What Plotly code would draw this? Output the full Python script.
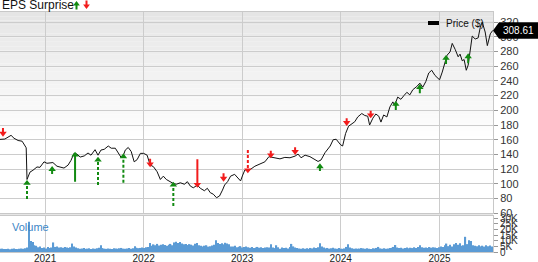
import plotly.graph_objects as go
import pandas as pd

# ---------------- data ----------------
price_dates = [
    "2020-07-18", "2020-08-05", "2020-08-28", "2020-09-08", "2020-09-23", "2020-10-08", "2020-10-19",
    "2020-10-23", "2020-10-26", "2020-11-06", "2020-11-17", "2020-12-02", "2020-12-13", "2020-12-28",
    "2021-01-08", "2021-01-19", "2021-01-30", "2021-02-14", "2021-02-25", "2021-03-12", "2021-03-27",
    "2021-04-07", "2021-04-18", "2021-04-29", "2021-05-11", "2021-05-26", "2021-06-09", "2021-06-20",
    "2021-07-05", "2021-07-16", "2021-07-27", "2021-08-08", "2021-08-23", "2021-09-03", "2021-09-18",
    "2021-09-29", "2021-10-10", "2021-10-18", "2021-10-25", "2021-11-05", "2021-11-16", "2021-11-27",
    "2021-12-08", "2021-12-20",
    "2022-01-01", "2022-01-14", "2022-01-25", "2022-02-06", "2022-02-20", "2022-03-04", "2022-03-15",
    "2022-03-26", "2022-04-10", "2022-04-21", "2022-05-02", "2022-05-17", "2022-06-01", "2022-06-12",
    "2022-06-23", "2022-07-04", "2022-07-19", "2022-07-30", "2022-08-14", "2022-08-25", "2022-09-05",
    "2022-09-16", "2022-09-28", "2022-10-09", "2022-10-20", "2022-10-28", "2022-11-08", "2022-11-19",
    "2022-12-04", "2022-12-15", "2022-12-26",
    "2023-01-03", "2023-01-11", "2023-01-22", "2023-01-29", "2023-02-17", "2023-03-07", "2023-03-26",
    "2023-04-10", "2023-04-21", "2023-05-02", "2023-05-21", "2023-06-08", "2023-06-27", "2023-07-16",
    "2023-07-27", "2023-08-07", "2023-08-22", "2023-09-09", "2023-09-28", "2023-10-09", "2023-10-20",
    "2023-11-04", "2023-11-23", "2023-12-04", "2023-12-15",
    "2024-01-01", "2024-01-08", "2024-01-19", "2024-01-30", "2024-02-10", "2024-02-22", "2024-03-04",
    "2024-03-19", "2024-03-30", "2024-04-10", "2024-04-17", "2024-04-29", "2024-05-10", "2024-05-21",
    "2024-05-29", "2024-06-08", "2024-06-20", "2024-07-01", "2024-07-12", "2024-07-19", "2024-07-30",
    "2024-08-11", "2024-08-22", "2024-09-02", "2024-09-13", "2024-09-24", "2024-10-09", "2024-10-20",
    "2024-10-31", "2024-11-11", "2024-11-22", "2024-12-03", "2024-12-15", "2024-12-26",
    "2025-01-01", "2025-01-11", "2025-01-22", "2025-01-29", "2025-02-09", "2025-02-17", "2025-02-28",
    "2025-03-11", "2025-03-18", "2025-03-26", "2025-04-02", "2025-04-10", "2025-04-17", "2025-04-25",
    "2025-05-02", "2025-05-13", "2025-05-24", "2025-06-01", "2025-06-08", "2025-06-19", "2025-06-27",
    "2025-07-08", "2025-07-17",
]
price_values = [
    160.5, 161, 166, 162, 159, 158, 151.5, 149, 106, 116, 118.5, 123, 122.5, 130,
    128, 128.5, 129, 124, 122.5, 121.5, 125.5, 132, 141.5, 140.5, 136.5, 138, 142, 139, 146.5, 139,
    146, 147, 151.5, 148.5, 148.5, 142, 135.7, 139, 146, 149.5, 144, 130, 133, 141.5,
    141.5, 139, 125.7, 123.5, 116.5, 106, 110.5, 106, 103, 100.5, 99.5, 101.5, 99.5, 103, 97, 94.7,
    98.3, 94, 90.7, 94, 88, 86, 81.2, 83.5, 91.5, 98.5, 103, 110.5, 113, 109, 104,
    112, 119, 119, 119, 124, 127, 130, 137, 136, 134.7, 134, 136, 135.5, 137.8, 140.5, 135.5, 139,
    137, 132.5, 130.5, 132.5, 142.5, 151.5, 160, 160.7,
    153, 151.5, 168.5, 178.4, 181, 184.5, 191, 195.7, 193, 192, 180, 189.3, 195, 192, 184, 193.7,
    191, 204.5, 211.5, 207, 218, 215, 220, 224.5, 221, 228, 232.5, 237, 231.5, 239, 250.8, 254.5,
    247.5, 243,
    241.5, 252, 268, 275, 279.5, 291, 282.8, 272.8, 276.4, 267.4, 269, 254.5, 261.5, 282, 301, 297,
    298.5, 313, 320, 306.5, 288, 304, 308.61,
]
last_price = 308.61

eps_dates = [
    "2020-07-29", "2020-10-26", "2021-01-27", "2021-04-22", "2021-07-16", "2021-10-18", "2022-01-25",
    "2022-04-21", "2022-07-19", "2022-10-24", "2023-01-22", "2023-04-17", "2023-07-16", "2023-10-16",
    "2024-01-23", "2024-04-21", "2024-07-23", "2024-10-20", "2025-01-25", "2025-04-17",
]
eps_sign = [-1, 1, 1, 1, 1, 1, -1, 1, -1, -1, -1, -1, -1, 1, -1, -1, 1, 1, 1, 1]
eps_tail = [176, 79.4, 113.4, 103, 98.5, 101.6, 134.2, 70, 133.4, 114.4,
            146, 145.1, 149.7, 117.5, 189.2, 199.5, 200.5, 223.2, 263, 264]
eps_tip = [164.2, 105.3, 124.3, 143.8, 137, 141.6, 122.6, 103, 94.7, 103,
           114.4, 134.8, 139.3, 128, 178.7, 189.2, 212.7, 235.8, 275.3, 277.6]
eps_estimated = [False, True, True, False, True, True, False, True, False, False,
                 True, False, False, False, False, False, False, False, False, False]

volume_start = "2020-07-20"
volume_k = (
    [2.8, 3.0, 2.6, 2.7, 2.9, 2.5, 2.8, 3.1, 2.7, 2.6, 2.9, 3.2, 3.0, 3.4]
    + [4.0, 27.0]
    + [9.8, 9.0, 6.0, 5.5, 4.2, 4.8]
    + [3.5, 4.0, 3.2, 4.5, 3.6, 4.0]
    + [8.5]
    + [4.5, 5.0, 4.0, 4.2, 3.8, 4.4, 4.0, 3.6, 4.2]
    + [7.5]
    + [5.0, 4.0, 3.4, 3.0, 3.2, 3.5, 2.8, 3.0, 3.3, 2.6, 3.1, 2.9, 3.4, 3.8]
    + [6.0]
    + [3.5, 3.0, 2.8, 3.2, 3.0, 2.7, 3.4, 3.1, 2.9, 3.3, 3.6, 3.0, 2.8, 3.2, 3.5, 3.0, 3.3]
    + [5.2]
    + [3.8, 3.4, 3.6, 4.0, 3.5, 4.2, 4.5]
    + [8.0]
    + [5.5, 6.8, 6.0, 7.2, 5.8, 6.5, 7.0, 6.2, 5.6, 6.4, 7.2, 6.0]
    + [8.5, 9.2, 8.0, 8.8, 7.5]
    + [6.8, 7.2, 6.2, 7.0, 6.5, 5.8, 7.4, 8.0]
    + [6.0, 5.5, 5.0, 5.6, 6.0, 4.8, 5.2, 5.8, 6.5]
    + [10.5]
    + [8.0, 7.2, 7.8, 6.8, 8.2, 7.5, 7.0]
    + [5.0, 4.8, 5.5, 4.2, 4.6, 5.2, 4.0, 4.5, 4.8]
    + [4.2, 3.8, 4.4, 3.6, 4.0, 4.5, 3.8, 4.2, 3.5, 4.0, 4.3]
    + [4.0]
    + [7.0, 4.0, 3.5, 6.0, 4.2, 3.0, 4.0, 3.5, 3.8, 3.2, 4.5, 7.2, 5.0, 4.0, 3.6, 3.2, 3.0, 3.4]
    + [3.0, 3.4, 2.8, 3.6, 3.2, 4.0, 3.5, 4.2]
    + [7.8]
    + [5.0, 4.0, 3.2, 3.6, 3.0, 3.4, 3.8, 3.2, 2.9]
    + [3.5, 3.0, 2.8, 3.2, 4.5, 7.0, 4.0, 3.4, 3.0]
    + [3.2, 2.8, 3.0, 3.5, 3.2, 2.9, 3.4, 3.0, 2.7, 3.3, 3.1, 3.6, 4.5, 3.2, 2.9, 3.4, 3.0, 3.2, 3.5, 3.8]
    + [4.5, 6.2]
    + [4.0, 3.5, 3.8, 3.2, 3.6, 4.0, 3.4, 3.8, 3.5, 4.2, 3.6, 4.4]
    + [6.0]
    + [4.2, 3.8, 4.0, 3.6, 4.4, 3.8, 4.2, 4.0, 3.6]
    + [4.2, 5.0, 4.5, 6.0, 7.5, 5.2, 6.5, 5.0]
    + [7.0, 8.0, 6.5, 7.8, 5.5]
    + [6.0, 13.5]
    + [7.0, 10.5, 9.8]
    + [6.0, 5.5, 5.2, 6.0, 5.0, 5.6, 4.8, 6.0, 5.2, 5.8, 5.0]
)

year_ticks = ["2021-01-01", "2022-01-01", "2023-01-01", "2024-01-01", "2025-01-01"]
year_labels = ["2021", "2022", "2023", "2024", "2025"]
price_ticks = [60, 80, 100, 120, 140, 160, 180, 200, 220, 240, 260, 280, 300, 320]
vol_ticks = [0, 5000, 10000, 15000, 20000, 25000, 30000]
vol_tick_labels = ["0", "5K", "10K", "15K", "20K", "25K", "30K"]

# ---------------- layout geometry / styles ----------------
W, H = 538, 262
ML, MR, MT, MB = 0, 45, 12, 10
PW, PH = W - ML - MR, H - MT - MB


def px(x):
    return (x - ML) / PW


def py(y):
    return (H - MB - y) / PH


PRICE_DOM = [py(213.3), 1.0]
VOL_DOM = [0.0, py(216)]
PRICE_RANGE = [60, 333.7]
VOL_RANGE = [0, 32000]
X_RANGE = ["2020-07-18", "2025-07-18"]
FONT = "Liberation Sans, Arial, Helvetica, sans-serif"
GREEN = "#128a12"
RED = "#f21c1c"
GRID = "#cccccc"

px_per_price = (PRICE_DOM[1] - PRICE_DOM[0]) * PH / (PRICE_RANGE[1] - PRICE_RANGE[0])


def price_to_paper(p):
    return PRICE_DOM[0] + (p - PRICE_RANGE[0]) / (PRICE_RANGE[1] - PRICE_RANGE[0]) * (PRICE_DOM[1] - PRICE_DOM[0])


fig = go.Figure()

# volume
vol_dates = pd.date_range(start=volume_start, periods=len(volume_k), freq="7D")
fig.add_trace(go.Bar(x=vol_dates, y=[v * 1000 for v in volume_k], marker=dict(color="#5b9bd5", line=dict(width=0)),
                     xaxis="x2", yaxis="y2", showlegend=False, hoverinfo="skip"))

# price line
fig.add_trace(go.Scatter(x=price_dates, y=price_values, mode="lines", line=dict(color="#111111", width=1),
                         xaxis="x", yaxis="y", showlegend=False, hoverinfo="skip"))

# EPS arrows
HEAD = 6.5
r_price = (HEAD / 2) / px_per_price
for d, s, tail, tip, est in zip(eps_dates, eps_sign, eps_tail, eps_tip, eps_estimated):
    col = GREEN if s > 0 else RED
    center = tip - s * r_price
    fig.add_trace(go.Scatter(x=[d, d], y=[tail, center], mode="lines",
                             line=dict(color=col, width=2, dash="3px,2px" if est else "solid"),
                             xaxis="x", yaxis="y", showlegend=False, hoverinfo="skip"))
    fig.add_trace(go.Scatter(x=[d], y=[center], mode="markers",
                             marker=dict(symbol="triangle-up" if s > 0 else "triangle-down", size=HEAD,
                                         color=col, line=dict(width=0)),
                             xaxis="x", yaxis="y", showlegend=False, hoverinfo="skip"))

shapes = []
# background gradient in top part of the price panel
N = 30
top_y, end_y = 12, 140
for i in range(N):
    y0 = top_y + (end_y - top_y) * i / N
    y1 = top_y + (end_y - top_y) * (i + 1) / N
    c = int(round(229 + (255 - 229) * (i + 0.5) / N))
    shapes.append(dict(type="rect", xref="paper", yref="paper", x0=0, x1=1, y0=py(y1), y1=py(y0),
                       fillcolor=f"rgb({c},{c},{c})", line=dict(width=0), layer="below"))
# gap band between panels
shapes.append(dict(type="rect", xref="paper", yref="paper", x0=0, x1=1, y0=VOL_DOM[1], y1=PRICE_DOM[0],
                   fillcolor="#e6e6e6", line=dict(width=0), layer="below"))
# legend swatch
shapes.append(dict(type="rect", xref="paper", yref="paper", x0=px(428), x1=px(439), y0=py(25), y1=py(21),
                   fillcolor="#000000", line=dict(width=0)))


# header icons
def up_icon(cx, top, col):
    return dict(type="path", xref="paper", yref="paper", fillcolor=col, line=dict(width=0),
                path=(f"M{px(cx-3.4)},{py(top+4.5)} L{px(cx)},{py(top)} L{px(cx+3.4)},{py(top+4.5)} "
                      f"L{px(cx+1)},{py(top+4.5)} L{px(cx+1)},{py(top+8.5)} L{px(cx-1)},{py(top+8.5)} "
                      f"L{px(cx-1)},{py(top+4.5)} Z"))


def down_icon(cx, top, col):
    return dict(type="path", xref="paper", yref="paper", fillcolor=col, line=dict(width=0),
                path=(f"M{px(cx-1)},{py(top)} L{px(cx+1)},{py(top)} L{px(cx+1)},{py(top+4)} "
                      f"L{px(cx+3.4)},{py(top+4)} L{px(cx)},{py(top+8.5)} L{px(cx-3.4)},{py(top+4)} "
                      f"L{px(cx-1)},{py(top+4)} Z"))


shapes.append(up_icon(76.5, 1, GREEN))
shapes.append(down_icon(86.5, 0.5, RED))

# last price tag
yc = price_to_paper(last_price)
hh = 8.3 / PH
x_tip = 1.0
x_body = px(499)
x_end = px(538)
shapes.append(dict(type="path", xref="paper", yref="paper", fillcolor="#000000", line=dict(width=0),
                   path=f"M{x_tip},{yc} L{x_body},{yc+hh} L{x_end},{yc+hh} L{x_end},{yc-hh} L{x_body},{yc-hh} Z"))

annotations = [
    dict(text="EPS Surprise", x=px(0), y=py(5), xref="paper", yref="paper", xanchor="left", yanchor="middle",
         showarrow=False, font=dict(size=12, color="#111111", family=FONT)),
    dict(text="Price ($)", x=px(444), y=py(23.5), xref="paper", yref="paper", xanchor="left", yanchor="middle",
         showarrow=False, font=dict(size=10, color="#111111", family=FONT)),
    dict(text="Volume", x=px(10), y=py(227), xref="paper", yref="paper", xanchor="left", yanchor="middle",
         showarrow=False, font=dict(size=11, color="#3d86c6", family=FONT)),
    dict(text=f"{last_price:.2f}", x=px(518), y=yc, xref="paper", yref="paper", xanchor="center",
         yanchor="middle", showarrow=False, font=dict(size=10, color="#ffffff", family=FONT)),
]

axis_common = dict(showline=True, linecolor="#c8c8c8", linewidth=1, mirror=True, zeroline=False)

fig.update_layout(
    width=W, height=H,
    margin=dict(l=ML, r=MR, t=MT, b=MB, pad=0),
    paper_bgcolor="#ffffff", plot_bgcolor="rgba(0,0,0,0)",
    bargap=0.3,
    font=dict(family=FONT, size=11, color="#333333"),
    shapes=shapes,
    annotations=annotations,
    xaxis=dict(domain=[0, 1], anchor="y", type="date", range=X_RANGE, tickvals=year_ticks,
               showticklabels=False, ticks="", showgrid=True, gridcolor=GRID, gridwidth=1,
               matches="x2", **axis_common),
    xaxis2=dict(domain=[0, 1], anchor="y2", type="date", range=X_RANGE, tickvals=year_ticks,
                ticktext=year_labels, ticks="", showgrid=True, gridcolor=GRID, gridwidth=1,
                ticklabelstandoff=-3,
                tickfont=dict(size=10, color="#222222"), automargin=False, **axis_common),
    yaxis=dict(domain=PRICE_DOM, anchor="x", side="right", range=PRICE_RANGE, tickvals=price_ticks,
               ticks="outside", ticklen=4, tickcolor="#999999", showgrid=True, gridcolor=GRID,
               tickfont=dict(size=11, color="#333333"), automargin=False, **axis_common),
    yaxis2=dict(domain=VOL_DOM, anchor="x2", side="right", range=VOL_RANGE, tickvals=vol_ticks,
                ticktext=vol_tick_labels, ticks="outside", ticklen=4, tickcolor="#999999", showgrid=False,
                tickfont=dict(size=10, color="#333333"), automargin=False, **axis_common),
)

fig.write_html("out.html")
